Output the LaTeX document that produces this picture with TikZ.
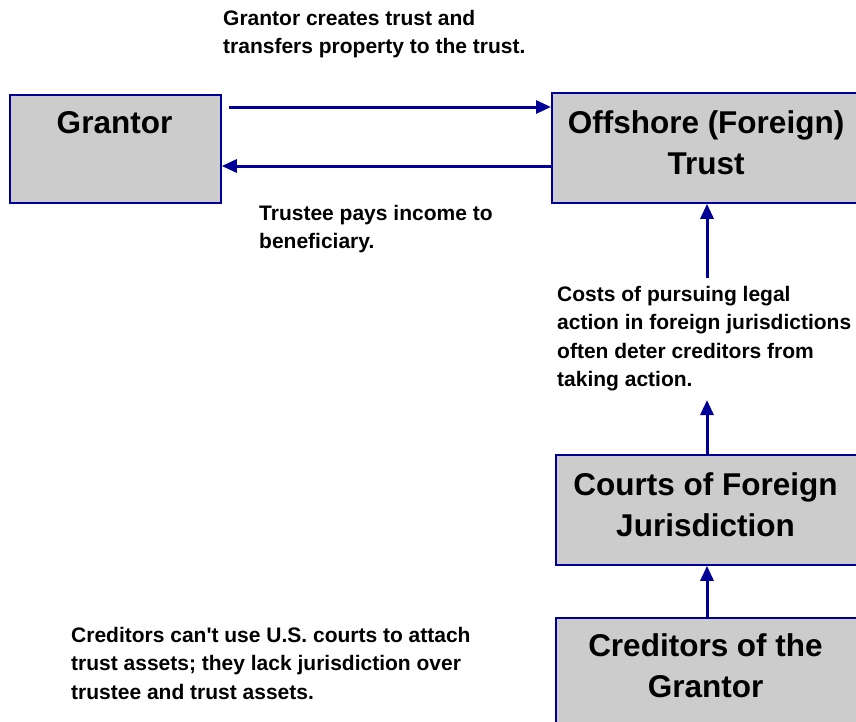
\documentclass[tikz,border=0pt]{standalone}
\usepackage{fontspec}
\setmainfont{Liberation Sans}
\newfontfamily\boxfont{Liberation Sans Bold}
\usetikzlibrary{arrows.meta}
\definecolor{navy}{HTML}{000099}
\definecolor{boxgray}{HTML}{CCCCCC}
\begin{document}
\begin{tikzpicture}[x=1pt,y=-1pt,
  box/.style={draw=navy, fill=boxgray, line width=1.8pt, anchor=north west, inner sep=0pt},
  bigtxt/.style={font=\boxfont\fontsize{31.5}{41}\selectfont, align=center, anchor=north, inner sep=0pt},
  lbl/.style={font=\boxfont\fontsize{21}{28.5}\selectfont, align=left, anchor=north west, inner sep=0pt},
  conn/.style={draw=navy, line width=3pt, -{Triangle[length=15pt,width=13pt]}}]
\useasboundingbox (0,0) rectangle (856,721);
% boxes
\node[box, minimum width=211pt, minimum height=108pt] (grantor) at (9,94) {};
\node[box, minimum width=310pt, minimum height=110pt] (trust) at (551,92) {};
\node[box, minimum width=310pt, minimum height=110pt] (courts) at (555,454) {};
\node[box, minimum width=310pt, minimum height=120pt] (creditors) at (555,617) {};
% box texts
\node[bigtxt] (grantortxt) at (114.5,111) {Grantor};
\node[bigtxt] (trusttxt) at (706,110) {Offshore (Foreign)\\Trust};
\node[bigtxt] (courtstxt) at (705.5,472) {Courts of Foreign\\Jurisdiction};
\node[bigtxt] (creditorstxt) at (705.5,633) {Creditors of the\\Grantor};
% labels
\node[lbl] (lbltop) at (223,10) {Grantor creates trust and\\transfers property to the trust.};
\node[lbl] (lblpay) at (259,205) {Trustee pays income to\\beneficiary.};
\node[lbl] (lblcost) at (557,286) {Costs of pursuing legal\\action in foreign jurisdictions\\often deter creditors from\\taking action.};
\node[lbl] (lblcred) at (71,627) {Creditors can't use U.S. courts to attach\\trust assets; they lack jurisdiction over\\trustee and trust assets.};
% connector coordinates
\coordinate (costtop) at (707,278);
\coordinate (costbot) at (707,400);
% connectors
\draw[conn] ([xshift=7pt]grantor.east |- 0,107) -- (trust.west |- 0,107);
\draw[conn] (trust.west |- 0,166) -- (grantor.east |- 0,166);
\draw[conn] (costtop) -- (costtop |- trust.south);
\draw[conn] (costbot |- courts.north) -- (costbot);
\draw[conn] (costbot |- creditors.north) -- (costbot |- courts.south);
\end{tikzpicture}
\end{document}
